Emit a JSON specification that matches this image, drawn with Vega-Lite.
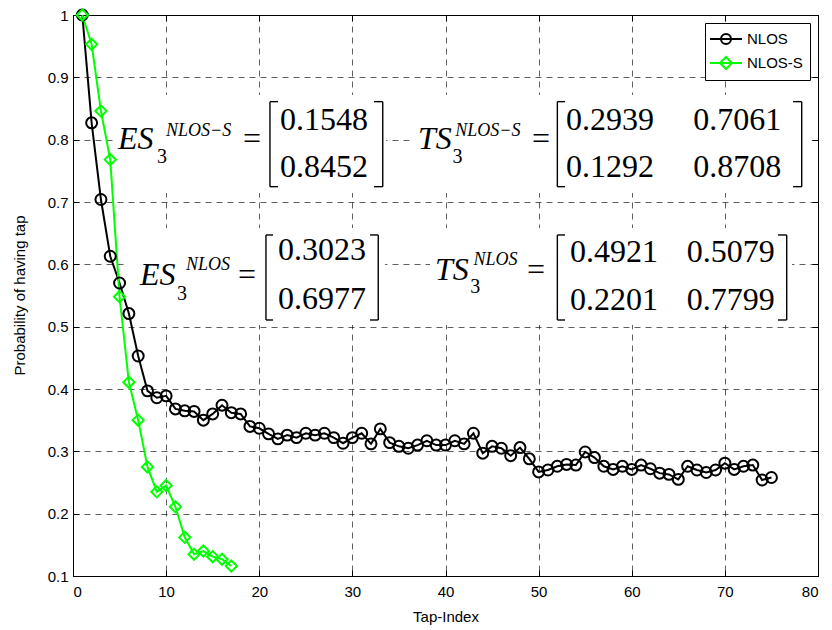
{
  "$schema": "https://vega.github.io/schema/vega-lite/v6.json",
  "width": 745,
  "height": 561,
  "autosize": {"type": "none"},
  "padding": {"left": 73, "top": 15, "right": 14, "bottom": 54},
  "background": "#ffffff",
  "config": {
    "view": {"stroke": "#000000", "strokeWidth": 1},
    "font": "Liberation Sans",
    "axis": {
      "domainColor": "#000000",
      "tickColor": "#000000",
      "labelColor": "#000000",
      "titleColor": "#000000",
      "labelFont": "Liberation Sans",
      "labelFontSize": 15,
      "titleFont": "Liberation Sans",
      "titleFontSize": 15,
      "titleFontWeight": "normal",
      "gridColor": "#000000",
      "gridDash": [6, 5],
      "gridWidth": 0.7,
      "gridOpacity": 0.9,
      "tickSize": -6,
      "tickWidth": 1
    }
  },
  "datasets": {
    "series": [
      {"tap": 1, "p": 1.0, "s": "NLOS"},
      {"tap": 2, "p": 0.827, "s": "NLOS"},
      {"tap": 3, "p": 0.704, "s": "NLOS"},
      {"tap": 4, "p": 0.613, "s": "NLOS"},
      {"tap": 5, "p": 0.57, "s": "NLOS"},
      {"tap": 6, "p": 0.521, "s": "NLOS"},
      {"tap": 7, "p": 0.453, "s": "NLOS"},
      {"tap": 8, "p": 0.397, "s": "NLOS"},
      {"tap": 9, "p": 0.386, "s": "NLOS"},
      {"tap": 10, "p": 0.389, "s": "NLOS"},
      {"tap": 11, "p": 0.368, "s": "NLOS"},
      {"tap": 12, "p": 0.365, "s": "NLOS"},
      {"tap": 13, "p": 0.364, "s": "NLOS"},
      {"tap": 14, "p": 0.35, "s": "NLOS"},
      {"tap": 15, "p": 0.36, "s": "NLOS"},
      {"tap": 16, "p": 0.374, "s": "NLOS"},
      {"tap": 17, "p": 0.362, "s": "NLOS"},
      {"tap": 18, "p": 0.36, "s": "NLOS"},
      {"tap": 19, "p": 0.34, "s": "NLOS"},
      {"tap": 20, "p": 0.337, "s": "NLOS"},
      {"tap": 21, "p": 0.328, "s": "NLOS"},
      {"tap": 22, "p": 0.32, "s": "NLOS"},
      {"tap": 23, "p": 0.326, "s": "NLOS"},
      {"tap": 24, "p": 0.322, "s": "NLOS"},
      {"tap": 25, "p": 0.329, "s": "NLOS"},
      {"tap": 26, "p": 0.326, "s": "NLOS"},
      {"tap": 27, "p": 0.329, "s": "NLOS"},
      {"tap": 28, "p": 0.322, "s": "NLOS"},
      {"tap": 29, "p": 0.313, "s": "NLOS"},
      {"tap": 30, "p": 0.322, "s": "NLOS"},
      {"tap": 31, "p": 0.329, "s": "NLOS"},
      {"tap": 32, "p": 0.312, "s": "NLOS"},
      {"tap": 33, "p": 0.336, "s": "NLOS"},
      {"tap": 34, "p": 0.314, "s": "NLOS"},
      {"tap": 35, "p": 0.308, "s": "NLOS"},
      {"tap": 36, "p": 0.305, "s": "NLOS"},
      {"tap": 37, "p": 0.31, "s": "NLOS"},
      {"tap": 38, "p": 0.317, "s": "NLOS"},
      {"tap": 39, "p": 0.31, "s": "NLOS"},
      {"tap": 40, "p": 0.31, "s": "NLOS"},
      {"tap": 41, "p": 0.317, "s": "NLOS"},
      {"tap": 42, "p": 0.312, "s": "NLOS"},
      {"tap": 43, "p": 0.329, "s": "NLOS"},
      {"tap": 44, "p": 0.297, "s": "NLOS"},
      {"tap": 45, "p": 0.308, "s": "NLOS"},
      {"tap": 46, "p": 0.305, "s": "NLOS"},
      {"tap": 47, "p": 0.293, "s": "NLOS"},
      {"tap": 48, "p": 0.306, "s": "NLOS"},
      {"tap": 49, "p": 0.288, "s": "NLOS"},
      {"tap": 50, "p": 0.267, "s": "NLOS"},
      {"tap": 51, "p": 0.27, "s": "NLOS"},
      {"tap": 52, "p": 0.276, "s": "NLOS"},
      {"tap": 53, "p": 0.279, "s": "NLOS"},
      {"tap": 54, "p": 0.278, "s": "NLOS"},
      {"tap": 55, "p": 0.299, "s": "NLOS"},
      {"tap": 56, "p": 0.29, "s": "NLOS"},
      {"tap": 57, "p": 0.276, "s": "NLOS"},
      {"tap": 58, "p": 0.271, "s": "NLOS"},
      {"tap": 59, "p": 0.276, "s": "NLOS"},
      {"tap": 60, "p": 0.271, "s": "NLOS"},
      {"tap": 61, "p": 0.278, "s": "NLOS"},
      {"tap": 62, "p": 0.272, "s": "NLOS"},
      {"tap": 63, "p": 0.265, "s": "NLOS"},
      {"tap": 64, "p": 0.263, "s": "NLOS"},
      {"tap": 65, "p": 0.255, "s": "NLOS"},
      {"tap": 66, "p": 0.276, "s": "NLOS"},
      {"tap": 67, "p": 0.27, "s": "NLOS"},
      {"tap": 68, "p": 0.266, "s": "NLOS"},
      {"tap": 69, "p": 0.27, "s": "NLOS"},
      {"tap": 70, "p": 0.281, "s": "NLOS"},
      {"tap": 71, "p": 0.271, "s": "NLOS"},
      {"tap": 72, "p": 0.276, "s": "NLOS"},
      {"tap": 73, "p": 0.278, "s": "NLOS"},
      {"tap": 74, "p": 0.254, "s": "NLOS"},
      {"tap": 75, "p": 0.258, "s": "NLOS"},
      {"tap": 1, "p": 1.0, "s": "NLOS-S"},
      {"tap": 2, "p": 0.953, "s": "NLOS-S"},
      {"tap": 3, "p": 0.846, "s": "NLOS-S"},
      {"tap": 4, "p": 0.768, "s": "NLOS-S"},
      {"tap": 5, "p": 0.548, "s": "NLOS-S"},
      {"tap": 6, "p": 0.411, "s": "NLOS-S"},
      {"tap": 7, "p": 0.35, "s": "NLOS-S"},
      {"tap": 8, "p": 0.275, "s": "NLOS-S"},
      {"tap": 9, "p": 0.235, "s": "NLOS-S"},
      {"tap": 10, "p": 0.245, "s": "NLOS-S"},
      {"tap": 11, "p": 0.211, "s": "NLOS-S"},
      {"tap": 12, "p": 0.162, "s": "NLOS-S"},
      {"tap": 13, "p": 0.135, "s": "NLOS-S"},
      {"tap": 14, "p": 0.14, "s": "NLOS-S"},
      {"tap": 15, "p": 0.131, "s": "NLOS-S"},
      {"tap": 16, "p": 0.127, "s": "NLOS-S"},
      {"tap": 17, "p": 0.116, "s": "NLOS-S"}
    ],
    "boxes": [
      {"x": 4.3, "x2": 33.61, "y": 0.8717, "y2": 0.7145},
      {"x": 36.51, "x2": 79.36, "y": 0.8717, "y2": 0.7145},
      {"x": 5.8, "x2": 33.5, "y": 0.6583, "y2": 0.5027},
      {"x": 38.34, "x2": 77.21, "y": 0.6583, "y2": 0.5027}
    ],
    "tex": [
      {"t": "ES", "k": "main", "x": 4.83, "y": 0.785},
      {"t": "3", "k": "sub", "x": 9.02, "y": 0.7626},
      {"t": "NLOS−S", "k": "sup", "x": 9.99, "y": 0.806},
      {"t": "=", "k": "num", "x": 18.26, "y": 0.785},
      {"t": "0.1548", "k": "num", "x": 22.23, "y": 0.8156},
      {"t": "0.8452", "k": "num", "x": 22.23, "y": 0.7406},
      {"t": "TS", "k": "main", "x": 37.05, "y": 0.785},
      {"t": "3", "k": "sub", "x": 40.75, "y": 0.7626},
      {"t": "NLOS−S", "k": "sup", "x": 41.05, "y": 0.806},
      {"t": "=", "k": "num", "x": 49.29, "y": 0.785},
      {"t": "0.2939", "k": "num", "x": 52.94, "y": 0.8156},
      {"t": "0.7061", "k": "num", "x": 66.61, "y": 0.8156},
      {"t": "0.1292", "k": "num", "x": 52.94, "y": 0.7406},
      {"t": "0.8708", "k": "num", "x": 66.61, "y": 0.7406},
      {"t": "ES", "k": "main", "x": 7.19, "y": 0.5669},
      {"t": "3", "k": "sub", "x": 11.17, "y": 0.5428},
      {"t": "NLOS", "k": "sup", "x": 12.13, "y": 0.5909},
      {"t": "=", "k": "num", "x": 17.72, "y": 0.5669},
      {"t": "0.3023", "k": "num", "x": 22.01, "y": 0.607},
      {"t": "0.6977", "k": "num", "x": 22.01, "y": 0.5284},
      {"t": "TS", "k": "main", "x": 38.87, "y": 0.5749},
      {"t": "3", "k": "sub", "x": 42.65, "y": 0.554},
      {"t": "NLOS", "k": "sup", "x": 43.0, "y": 0.599},
      {"t": "=", "k": "num", "x": 48.75, "y": 0.5749},
      {"t": "0.4921", "k": "num", "x": 53.37, "y": 0.6043},
      {"t": "0.5079", "k": "num", "x": 65.9, "y": 0.6043},
      {"t": "0.2201", "k": "num", "x": 53.37, "y": 0.5268},
      {"t": "0.7799", "k": "num", "x": 65.9, "y": 0.5268}
    ],
    "brackets": [
      {"x": 21.15, "x2": 21.15, "y": 0.861, "y2": 0.7246},
      {"x": 21.15, "x2": 22.01, "y": 0.861, "y2": 0.861},
      {"x": 21.15, "x2": 22.01, "y": 0.7246, "y2": 0.7246},
      {"x": 33.26, "x2": 33.26, "y": 0.861, "y2": 0.7246},
      {"x": 32.32, "x2": 33.26, "y": 0.861, "y2": 0.861},
      {"x": 32.32, "x2": 33.26, "y": 0.7246, "y2": 0.7246},
      {"x": 52.01, "x2": 52.01, "y": 0.861, "y2": 0.7246},
      {"x": 52.01, "x2": 52.83, "y": 0.861, "y2": 0.861},
      {"x": 52.01, "x2": 52.83, "y": 0.7246, "y2": 0.7246},
      {"x": 78.25, "x2": 78.25, "y": 0.861, "y2": 0.7246},
      {"x": 77.32, "x2": 78.25, "y": 0.861, "y2": 0.861},
      {"x": 77.32, "x2": 78.25, "y": 0.7246, "y2": 0.7246},
      {"x": 20.72, "x2": 20.72, "y": 0.6471, "y2": 0.5107},
      {"x": 20.72, "x2": 21.48, "y": 0.6471, "y2": 0.6471},
      {"x": 20.72, "x2": 21.48, "y": 0.5107, "y2": 0.5107},
      {"x": 32.78, "x2": 32.78, "y": 0.6471, "y2": 0.5107},
      {"x": 31.89, "x2": 32.78, "y": 0.6471, "y2": 0.6471},
      {"x": 31.89, "x2": 32.78, "y": 0.5107, "y2": 0.5107},
      {"x": 52.01, "x2": 52.01, "y": 0.6471, "y2": 0.5107},
      {"x": 52.01, "x2": 52.83, "y": 0.6471, "y2": 0.6471},
      {"x": 52.01, "x2": 52.83, "y": 0.5107, "y2": 0.5107},
      {"x": 76.64, "x2": 76.64, "y": 0.6471, "y2": 0.5107},
      {"x": 75.7, "x2": 76.64, "y": 0.6471, "y2": 0.6471},
      {"x": 75.7, "x2": 76.64, "y": 0.5107, "y2": 0.5107}
    ]
  },
  "layer": [
    {
      "data": {"name": "boxes"},
      "mark": {"type": "rect", "fill": "#ffffff", "stroke": null},
      "encoding": {
        "x": {"field": "x", "type": "quantitative", "scale": {"domain": [0, 80], "nice": false, "zero": false}, "axis": null},
        "x2": {"field": "x2"},
        "y": {"field": "y", "type": "quantitative", "scale": {"domain": [0.1, 1], "nice": false, "zero": false}, "axis": null},
        "y2": {"field": "y2"}
      }
    },
    {
      "data": {"name": "series"},
      "mark": {"type": "line", "strokeWidth": 2},
      "encoding": {
        "x": {
          "field": "tap", "type": "quantitative",
          "scale": {"domain": [0, 80], "nice": false, "zero": false},
          "axis": {
            "orient": "bottom", "title": "Tap-Index", "grid": true,
            "values": [0, 10, 20, 30, 40, 50, 60, 70, 80],
            "labelPadding": 14, "titleX": 372.5, "titleY": 33
          }
        },
        "y": {
          "field": "p", "type": "quantitative",
          "scale": {"domain": [0.1, 1], "nice": false, "zero": false},
          "axis": {
            "orient": "left", "title": "Probability of having tap", "grid": true,
            "values": [0.1, 0.2, 0.3, 0.4, 0.5, 0.6, 0.7, 0.8, 0.9, 1],
            "format": "~g", "labelPadding": 11, "titleX": -46, "titleY": 280
          }
        },
        "color": {
          "field": "s", "type": "nominal",
          "scale": {"domain": ["NLOS", "NLOS-S"], "range": ["#000000", "#00ff00"]},
          "legend": {
            "orient": "top-right", "offset": 8, "title": null,
            "padding": 7, "rowPadding": 5, "symbolSize": 256, "symbolStrokeWidth": 2,
            "symbolOpacity": 1,
            "labelFontSize": 15, "labelFont": "Liberation Sans", "labelColor": "#000000",
            "labelOffset": 17, "strokeColor": "#000000", "fillColor": "#ffffff"
          }
        },
        "detail": {"field": "s"}
      }
    },
    {
      "data": {"name": "series"},
      "mark": {"type": "point", "filled": false, "strokeWidth": 2, "size": 100, "opacity": 0},
      "encoding": {
        "x": {"field": "tap", "type": "quantitative", "scale": {"domain": [0, 80], "nice": false, "zero": false}, "axis": null},
        "y": {"field": "p", "type": "quantitative", "scale": {"domain": [0.1, 1], "nice": false, "zero": false}, "axis": null},
        "color": {"field": "s", "type": "nominal", "scale": {"domain": ["NLOS", "NLOS-S"], "range": ["#000000", "#00ff00"]}, "legend": null},
        "shape": {
          "field": "s", "type": "nominal",
          "scale": {"domain": ["NLOS", "NLOS-S"], "range": ["M-1.375,0H2.625M0,0A0.625,0.625 0 1,1 1.25,0A0.625,0.625 0 1,1 0,0", "M-1.375,0H2.625M-0.125,0L0.625,-0.75L1.375,0L0.625,0.75Z"]},
          "legend": null
        }
      }
    },
    {
      "data": {"name": "series"},
      "transform": [{"filter": "datum.s === 'NLOS'"}],
      "mark": {"type": "point", "shape": "circle", "filled": false, "color": "#000000", "strokeWidth": 2, "size": 120, "opacity": 1},
      "encoding": {
        "x": {"field": "tap", "type": "quantitative", "scale": {"domain": [0, 80], "nice": false, "zero": false}, "axis": null},
        "y": {"field": "p", "type": "quantitative", "scale": {"domain": [0.1, 1], "nice": false, "zero": false}, "axis": null}
      }
    },
    {
      "data": {"name": "series"},
      "transform": [{"filter": "datum.s === 'NLOS-S'"}],
      "mark": {"type": "point", "shape": "diamond", "filled": false, "color": "#00ff00", "strokeWidth": 2, "size": 125, "opacity": 1},
      "encoding": {
        "x": {"field": "tap", "type": "quantitative", "scale": {"domain": [0, 80], "nice": false, "zero": false}, "axis": null},
        "y": {"field": "p", "type": "quantitative", "scale": {"domain": [0.1, 1], "nice": false, "zero": false}, "axis": null}
      }
    },
    {
      "data": {"name": "tex"},
      "transform": [{"filter": "datum.k === 'main'"}],
      "mark": {"type": "text", "font": "Liberation Serif", "fontStyle": "italic", "fontSize": 32, "align": "left", "baseline": "alphabetic", "color": "#000000"},
      "encoding": {
        "x": {"field": "x", "type": "quantitative", "scale": {"domain": [0, 80], "nice": false, "zero": false}, "axis": null},
        "y": {"field": "y", "type": "quantitative", "scale": {"domain": [0.1, 1], "nice": false, "zero": false}, "axis": null},
        "text": {"field": "t"}
      }
    },
    {
      "data": {"name": "tex"},
      "transform": [{"filter": "datum.k === 'sup'"}],
      "mark": {"type": "text", "font": "Liberation Serif", "fontStyle": "italic", "fontSize": 18, "align": "left", "baseline": "alphabetic", "color": "#000000"},
      "encoding": {
        "x": {"field": "x", "type": "quantitative", "scale": {"domain": [0, 80], "nice": false, "zero": false}, "axis": null},
        "y": {"field": "y", "type": "quantitative", "scale": {"domain": [0.1, 1], "nice": false, "zero": false}, "axis": null},
        "text": {"field": "t"}
      }
    },
    {
      "data": {"name": "tex"},
      "transform": [{"filter": "datum.k === 'sub'"}],
      "mark": {"type": "text", "font": "Liberation Serif", "fontSize": 20, "align": "left", "baseline": "alphabetic", "color": "#000000"},
      "encoding": {
        "x": {"field": "x", "type": "quantitative", "scale": {"domain": [0, 80], "nice": false, "zero": false}, "axis": null},
        "y": {"field": "y", "type": "quantitative", "scale": {"domain": [0.1, 1], "nice": false, "zero": false}, "axis": null},
        "text": {"field": "t"}
      }
    },
    {
      "data": {"name": "tex"},
      "transform": [{"filter": "datum.k === 'num'"}],
      "mark": {"type": "text", "font": "Liberation Serif", "fontSize": 32, "align": "left", "baseline": "alphabetic", "color": "#000000"},
      "encoding": {
        "x": {"field": "x", "type": "quantitative", "scale": {"domain": [0, 80], "nice": false, "zero": false}, "axis": null},
        "y": {"field": "y", "type": "quantitative", "scale": {"domain": [0.1, 1], "nice": false, "zero": false}, "axis": null},
        "text": {"field": "t"}
      }
    },
    {
      "data": {"name": "brackets"},
      "mark": {"type": "rule", "color": "#000000", "strokeWidth": 1.4},
      "encoding": {
        "x": {
          "field": "x", "type": "quantitative", "scale": {"domain": [0, 80], "nice": false, "zero": false},
          "axis": {"orient": "top", "title": null, "labels": false, "grid": false, "domain": false, "values": [0, 10, 20, 30, 40, 50, 60, 70, 80]}
        },
        "x2": {"field": "x2"},
        "y": {
          "field": "y", "type": "quantitative", "scale": {"domain": [0.1, 1], "nice": false, "zero": false},
          "axis": {"orient": "right", "title": null, "labels": false, "grid": false, "domain": false, "values": [0.1, 0.2, 0.3, 0.4, 0.5, 0.6, 0.7, 0.8, 0.9, 1]}
        },
        "y2": {"field": "y2"}
      }
    }
  ],
  "resolve": {"axis": {"x": "independent", "y": "independent"}}
}
